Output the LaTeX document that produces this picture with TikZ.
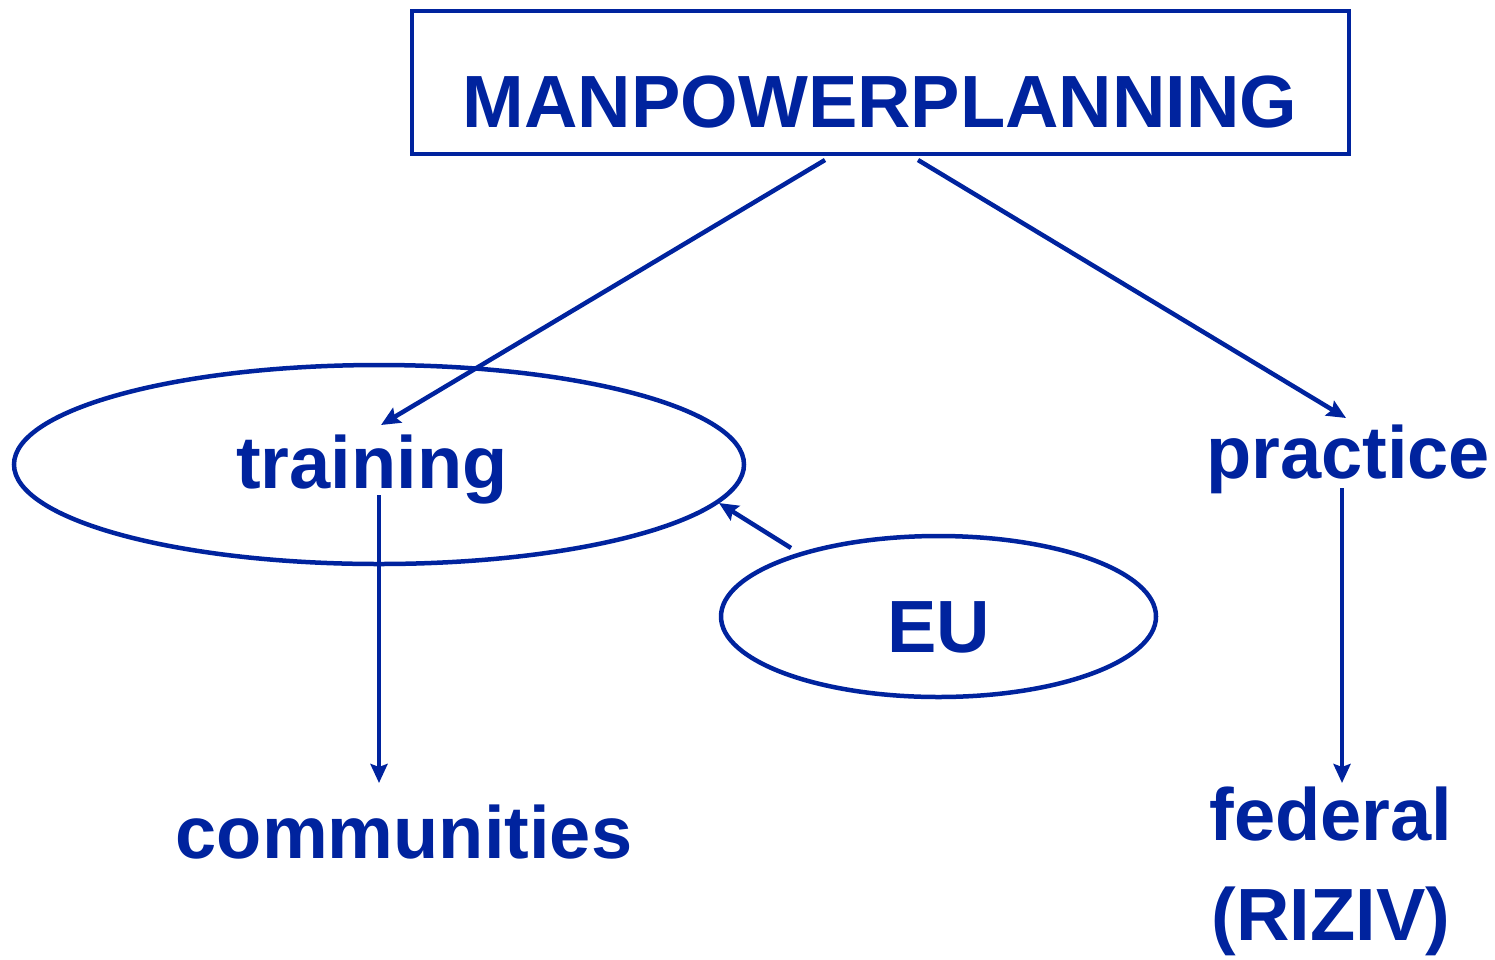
\documentclass[tikz,border=0pt]{standalone}
\usepackage{fontspec}
\setmainfont{Liberation Sans}
\usetikzlibrary{shapes.geometric,arrows.meta}
\definecolor{dblue}{RGB}{0,35,158}
\begin{document}
\begin{tikzpicture}[x=1pt,y=-1pt,
  lbl/.style={text=dblue,font=\fontsize{74}{100}\selectfont\bfseries,inner sep=0pt,anchor=base},
  ell/.style={ellipse,draw=dblue,line width=4.5pt,inner sep=0pt},
  conn/.style={draw=dblue,line width=4.5pt,-{Stealth[length=19pt,width=17pt,inset=3pt]}}]
\useasboundingbox (0,0) rectangle (1495,959);
% box
\node[draw=dblue,line width=4.5pt,minimum width=937pt,minimum height=143pt,inner sep=0pt] (mp) at (880.5,82.5) {};
\node[lbl] (mptext) at (880,127) {MANPOWERPLANNING};
% ellipses
\node[ell,minimum width=730pt,minimum height=199pt] (tr) at (379,464.5) {};
\node[ell,minimum width=435pt,minimum height=161pt] (eu) at (938.5,616.5) {};
% labels
\node[lbl] (training) at (372,488) {training};
\node[lbl] (practice) at (1348,478) {practice};
\node[lbl] (eutext) at (939,652) {EU};
\node[lbl] (comm) at (404,858) {communities};
\node[lbl,align=center] (fed) at (1331,940) {federal\\(RIZIV)};
% connector end points
\coordinate (s1) at (825,160);
\coordinate (t1) at (381,425);
\coordinate (s2) at (918,160);
\coordinate (t2) at (1346,418);
\coordinate (s3) at (379,495);
\coordinate (t3) at (379,783);
\coordinate (s4) at (1342,488);
\coordinate (t4) at (1342,783);
\coordinate (s5) at (791,548);
\coordinate (t5) at (719,503);
\draw[conn] (s1) -- (t1);
\draw[conn] (s2) -- (t2);
\draw[conn] (s3) -- (t3);
\draw[conn] (s4) -- (t4);
\draw[conn] (s5) -- (t5);
\end{tikzpicture}
\end{document}
